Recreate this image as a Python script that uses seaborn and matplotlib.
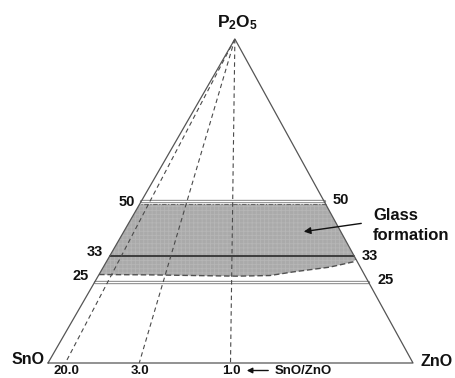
import numpy as np
import pandas as pd
import matplotlib
matplotlib.use("Agg")
import matplotlib.pyplot as plt
import seaborn as sns

# ---------------- data ----------------
vertex_labels = ["SnO", "ZnO", r"$\mathbf{P_2O_5}$"]
p2o5_levels = [50, 33, 25]                 # mol% P2O5 iso-lines
level_labels = ["50", "33", "25"]
ratios = [20.0, 3.0, 1.0]                  # SnO/ZnO ratio lines
ratio_labels = ["20.0", "3.0", "1.0"]
glass_top_p2o5 = 49.0                      # upper limit of glass region
glass_bottom_p2o5 = [27.3, 27.2, 26.8, 27.0, 28.1, 29.6, 31.2, 32.1]
glass_bottom_zno = [0.0, 14.0, 38.0, 47.0, 52.7, 62.1, 67.6, 67.9]

# ---------------- style ----------------
sns.set_theme(style="white")
plt.rcParams["font.family"] = ["Liberation Sans", "DejaVu Sans"]
plt.rcParams["mathtext.fontset"] = "custom"
plt.rcParams["mathtext.bf"] = "Liberation Sans:bold"
plt.rcParams["mathtext.rm"] = "Liberation Sans"
plt.rcParams["hatch.linewidth"] = 0.6

APEX = 0.512  # horizontal offset of the apex (slightly skewed triangle)


def tern(zno, p2o5):
    z = np.asarray(zno, float) / 100.0
    p = np.asarray(p2o5, float) / 100.0
    return z + APEX * p, p


W, H = 455, 378
fig = plt.figure(figsize=(W / 100, H / 100), dpi=100)
ax = fig.add_axes([0, 0, 1, 1])
ax.set_xlim(-48 / 365, (W - 48) / 365)
ax.set_ylim((363 - H) / 324, 363 / 324)
ax.axis("off")


def ftxt(x, y, s, **kw):
    fig.text(x / W, 1 - y / H, s, **kw)


# glass-formation region
top_z = [100 - glass_top_p2o5, 0.0]
poly_z = list(glass_bottom_zno) + top_z
poly_p = list(glass_bottom_p2o5) + [glass_top_p2o5, glass_top_p2o5]
px, py = tern(poly_z, poly_p)
ax.fill(px, py, color="#aaaaaa", lw=0, zorder=1)
ax.fill(px, py, facecolor="none", edgecolor="#b6b6b6", hatch="++++", lw=0, zorder=1)

# bottom dashed boundary
bx, by = tern(glass_bottom_zno, glass_bottom_p2o5)
sns.lineplot(x=bx, y=by, sort=False, estimator=None, ax=ax, color="#505050",
             lw=1.0, dashes=False, linestyle=(0, (4, 2)), zorder=3)
# top dash-dot boundary
tx, ty = tern(top_z, [glass_top_p2o5] * 2)
ax.plot(tx, ty, color="#666666", lw=0.8, linestyle=(0, (4, 1.5, 1, 1.5)), zorder=3)

# iso-P2O5 lines
for lev in p2o5_levels:
    lx, ly = tern([0, 100 - lev], [lev, lev])
    if lev == 33:
        ax.plot(lx, ly, color="#333333", lw=1.3, zorder=4)
    else:
        ax.plot(lx, ly, color="#8a8a8a", lw=2.4, zorder=4)
        ax.plot(lx, ly, color="white", lw=0.9, zorder=4)

# SnO/ZnO ratio lines from the apex
for r in ratios:
    zb = 100.0 / (1.0 + r)
    rx, ry = tern([0.0, zb], [100.0, 0.0])
    ax.plot(rx, ry, color="#4a4a4a", lw=0.8, linestyle=(0, (4, 3)), zorder=5)

# triangle
cx, cy = tern([0, 100, 0, 0], [0, 0, 100, 0])
sns.lineplot(x=cx, y=cy, sort=False, estimator=None, ax=ax, color="#555555",
             lw=0.9, zorder=6)

# ---------------- text ----------------
bold = dict(fontweight="bold", color="#111111")
ftxt(28, 360, vertex_labels[0], ha="center", va="center", fontsize=11.5, **bold)
ftxt(437, 362, vertex_labels[1], ha="center", va="center", fontsize=11.5, **bold)
ftxt(238, 23, vertex_labels[2], ha="center", va="center", fontsize=12.5, **bold)

left_pos = [(127, 202), (95, 252), (81, 276)]
right_pos = [(341, 200), (370, 256), (386, 280)]
for lab, (x0, y0), (x1, y1) in zip(level_labels, left_pos, right_pos):
    ftxt(x0, y0, lab, ha="center", va="center", fontsize=10.5, **bold)
    ftxt(x1, y1, lab, ha="center", va="center", fontsize=10.5, **bold)

bottom_pos = [66, 140, 231]
for lab, x0 in zip(ratio_labels, bottom_pos):
    ftxt(x0, 364.5, lab, ha="center", va="top", fontsize=9.5, **bold)
ftxt(275, 364.5, "SnO/ZnO", ha="left", va="top", fontsize=9.5, **bold)
fig.add_artist(matplotlib.patches.FancyArrowPatch(
    (271 / W, 1 - 370.5 / H), (244 / W, 1 - 370.5 / H), transform=fig.transFigure,
    arrowstyle="-|>", mutation_scale=8, color="#111111", lw=1.0))

ftxt(373, 215, "Glass", ha="left", va="center", fontsize=12, **bold)
ftxt(373, 236, "formation", ha="left", va="center", fontsize=12, **bold)
fig.add_artist(matplotlib.patches.FancyArrowPatch(
    (364 / W, 1 - 223 / H), (301 / W, 1 - 232 / H), transform=fig.transFigure,
    arrowstyle="-|>", mutation_scale=10, color="#111111", lw=1.0))

fig.savefig("out.png", dpi=100)
